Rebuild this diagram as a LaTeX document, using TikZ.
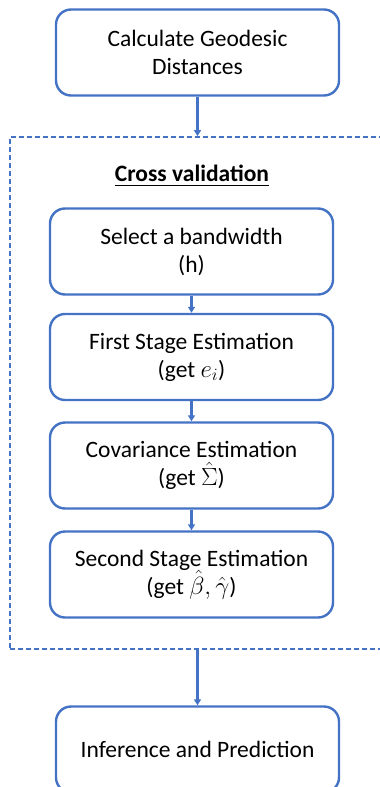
\documentclass[tikz,border=0pt]{standalone}
\usepackage{amsmath}
\usepackage{fontspec}
\setmainfont{Carlito}
\usetikzlibrary{arrows.meta}
\definecolor{flowblue}{HTML}{4472C4}

\begin{document}
\begin{tikzpicture}[x=1pt,y=-1pt,
    stepbox/.style={draw=flowblue,line width=2.4pt,rounded corners=15pt,
      minimum width=283pt,minimum height=86pt,inner sep=0pt,align=center,
      font=\fontsize{23.5}{28}\selectfont},
    flow/.style={draw=flowblue,line width=2.2pt,-{Triangle[width=7pt,length=6pt]}}]
    \useasboundingbox (0,0) rectangle (380,787);
    \node[stepbox] (geo) at (197.5,52.5) {Calculate Geodesic\\Distances};
    % cross validation loop
    \node[draw=flowblue,line width=1.8pt,dash pattern=on 5pt off 3pt,
      minimum width=375pt,minimum height=512pt,inner sep=0pt] (cv) at (197.5,393) {};
    \node[font=\fontsize{23.5}{28}\selectfont\bfseries] (cvtitle) at (192,176) {\underline{Cross validation}};
    \node[stepbox] (bw) at (191.5,251.5) {Select a bandwidth\\(h)};
    \node[stepbox] (first) at (191.5,357) {First Stage Estimation\\(get $e_i$)};
    \node[stepbox] (cov) at (191.5,465.5) {Covariance Estimation\\(get $\hat{\Sigma}$)};
    \node[stepbox] (second) at (191.5,574.5) {Second Stage Estimation\\(get $\hat{\beta},\hat{\gamma}$)};
    \node[stepbox] (infer) at (197.5,749.5) {Inference and Prediction};
    \draw[flow] (geo) -- (cv.north);
    \draw[flow] (bw) -- (first);
    \draw[flow] (first) -- (cov);
    \draw[flow] (cov) -- (second);
    \draw[flow] (cv.south) -- (infer);
\end{tikzpicture}
\end{document}
